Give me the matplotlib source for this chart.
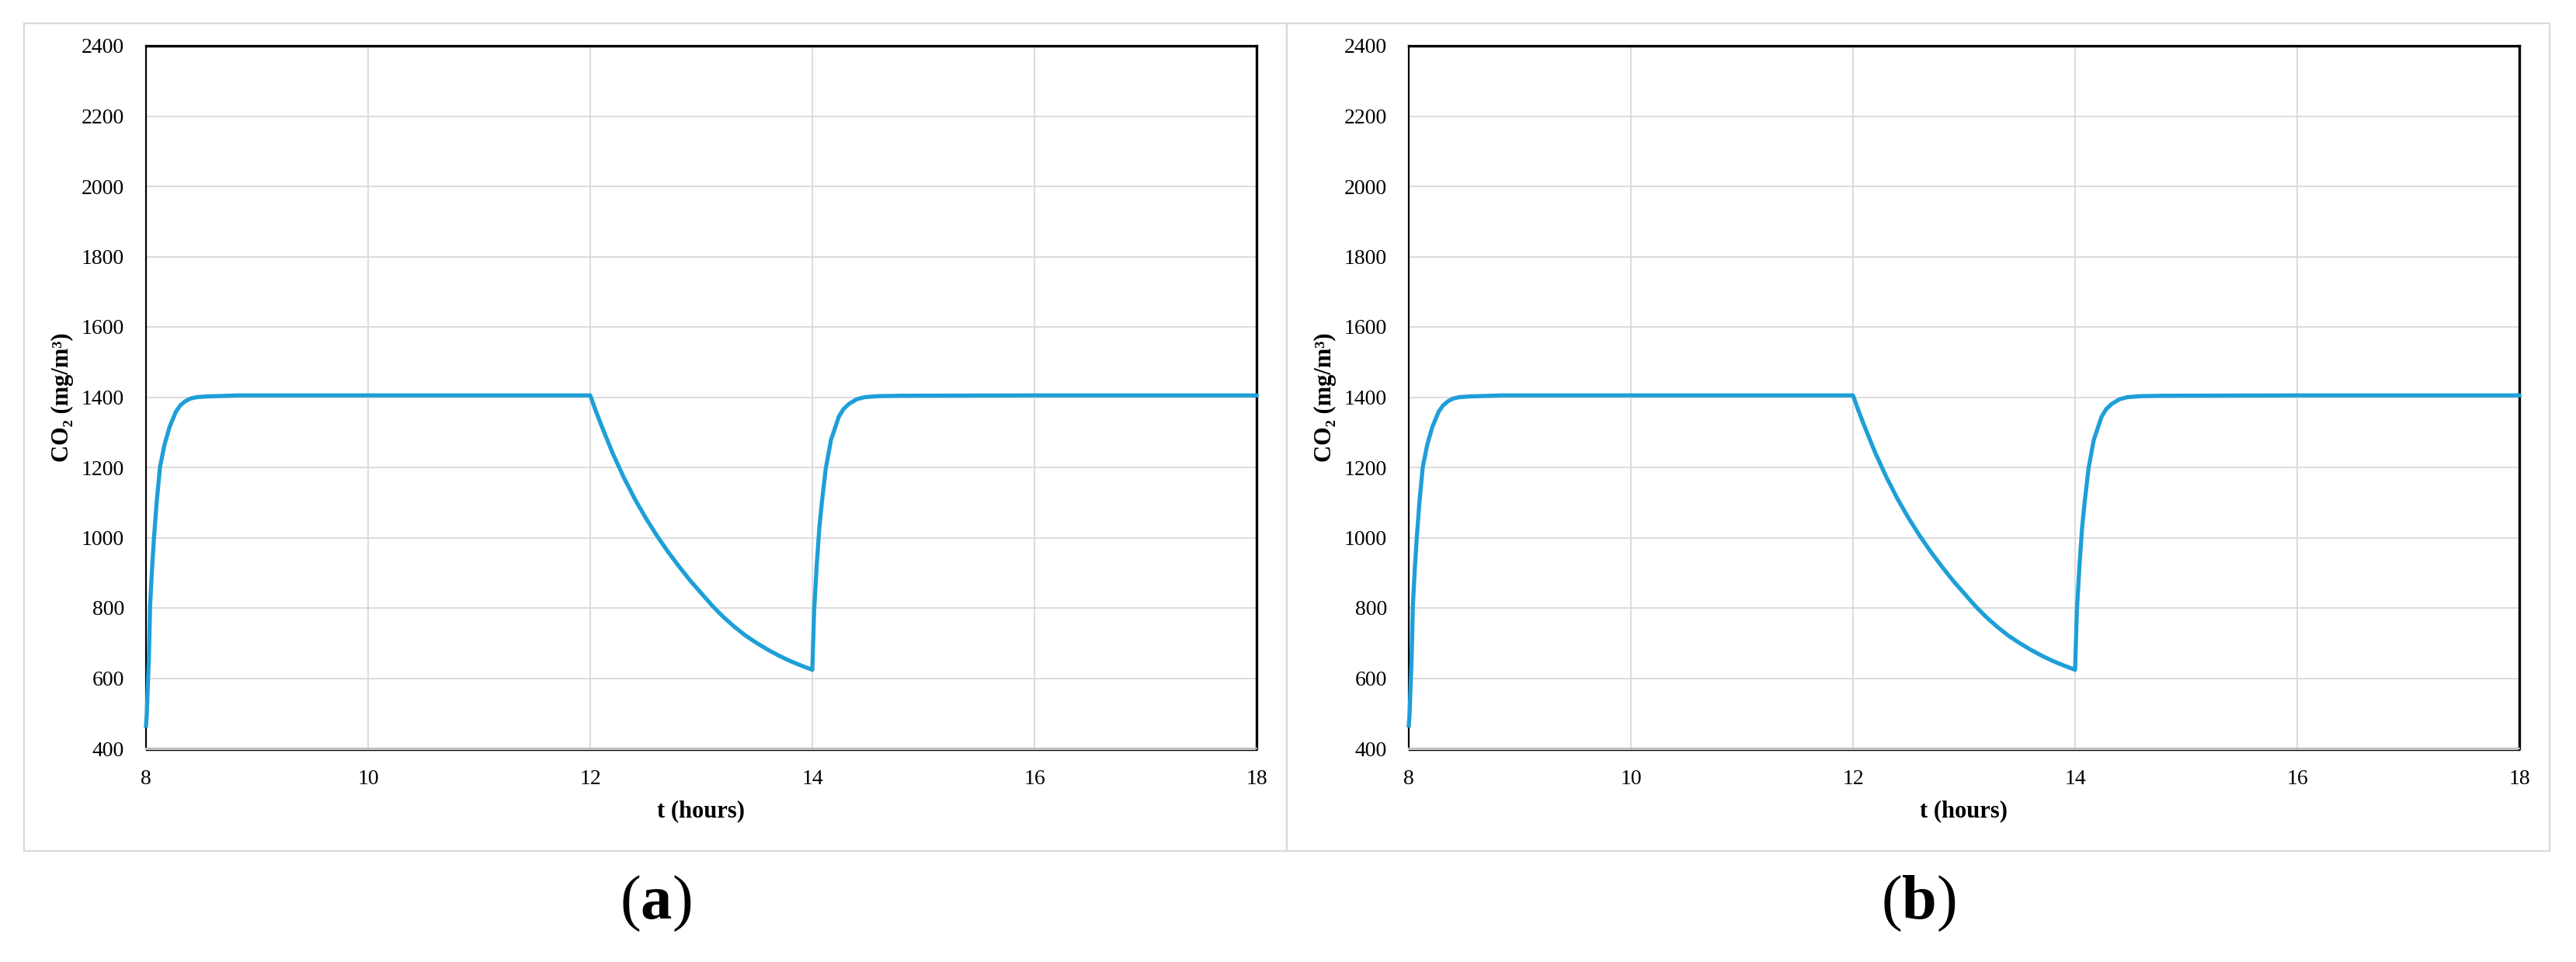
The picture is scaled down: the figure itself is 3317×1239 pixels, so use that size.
import matplotlib
matplotlib.use("Agg")
import matplotlib.pyplot as plt
from matplotlib.patches import Rectangle

plt.rcParams['font.family'] = ['Liberation Serif', 'DejaVu Serif']
plt.rcParams['mathtext.fontset'] = 'custom'
plt.rcParams['mathtext.rm'] = 'Liberation Serif'
plt.rcParams['mathtext.bf'] = 'Liberation Serif:bold'

# values (both panels show the same curve)
t_hours = [8.0, 8.007, 8.026, 8.037, 8.054, 8.072, 8.096, 8.126, 8.166, 8.212,
           8.27, 8.31, 8.352, 8.40, 8.457, 8.55, 8.65, 8.83, 10.0, 12.0,
           12.05, 12.1, 12.2, 12.3, 12.4, 12.5, 12.6, 12.7, 12.8, 12.9,
           13.0, 13.1, 13.2, 13.3, 13.4, 13.5, 13.6, 13.7, 13.8, 13.9,
           14.0, 14.016, 14.04, 14.063, 14.086, 14.121, 14.168, 14.238, 14.28, 14.331,
           14.40, 14.471, 14.6, 14.8, 16.0, 18.0]
co2_a = [465, 497, 659, 807, 910, 1000, 1101, 1201, 1264, 1315,
         1359, 1377, 1388, 1396, 1400, 1402, 1403, 1405, 1405, 1405,
         1361, 1320, 1242, 1173, 1111, 1056, 1006, 960, 918, 878,
         842, 806, 774, 746, 721, 700, 681, 664, 649, 636,
         624, 792, 924, 1028, 1101, 1197, 1278, 1344, 1366, 1381,
         1394, 1400, 1403, 1404, 1405, 1405]
co2_b = list(co2_a)

x_ticks = [8, 10, 12, 14, 16, 18]
y_ticks = [400, 600, 800, 1000, 1200, 1400, 1600, 1800, 2000, 2200, 2400]
panel_labels = ['a', 'b']

W, H = 3317, 1239
fig = plt.figure(figsize=(W / 100, H / 100), dpi=100)

# light grey boxes round each panel
for x0 in (31, 1657):
    fig.patches.append(Rectangle((x0 / W, 1 - 1096 / H), 1626 / W, 1066 / H,
                                 transform=fig.transFigure, fill=False,
                                 edgecolor='#D9D9D9', linewidth=1.6))

line_color = '#1E9FD8'
grid_color = '#D9D9D9'

for i, (ax_left, co2) in enumerate([(188, co2_a), (1814, co2_b)]):
    ax = fig.add_axes([ax_left / W, 1 - 964 / H, 1430 / W, 905 / H])
    ax.plot(t_hours, co2, color=line_color, linewidth=3.8, zorder=3,
            solid_joinstyle='round', clip_on=False)
    ax.set_xlim(8, 18)
    ax.set_ylim(400, 2400)
    ax.set_xticks(x_ticks)
    ax.set_yticks(y_ticks)
    ax.grid(True, color=grid_color, linewidth=1.3)
    ax.set_axisbelow(True)
    ax.tick_params(length=0, labelsize=20)
    ax.tick_params(axis='y', pad=20)
    ax.tick_params(axis='x', pad=18)

    for side in ('top', 'right'):
        ax.spines[side].set_color('black')
        ax.spines[side].set_linewidth(2.4)
    ax.spines['left'].set_color('black')
    ax.spines['left'].set_linewidth(1.6)
    ax.spines['bottom'].set_color('black')
    ax.spines['bottom'].set_linewidth(1.0)
    ax.spines['bottom'].set_position(('outward', 1.2))
    ax.axhline(400, color='#BFBFBF', linewidth=1.6, zorder=2.6, clip_on=False)

    ax.set_ylabel('CO₂ (mg/m³)', fontsize=22, fontweight='bold')
    ax.yaxis.set_label_coords(-108 / 1430, 0.5)
    ax.set_xlabel('t (hours)', fontsize=22, fontweight='bold')
    ax.xaxis.set_label_coords(0.5, -81 / 905)
    ax.xaxis.label.set_va('center')
    ax.yaxis.label.set_va('center')

    cx = (31 + 1626 * i + 813) / W
    fig.text(cx, 1 - 1164 / H, '($\\mathbf{' + panel_labels[i] + '}$)',
             fontsize=58, ha='center', va='center')

fig.savefig('out.png', dpi=100, facecolor='white')
